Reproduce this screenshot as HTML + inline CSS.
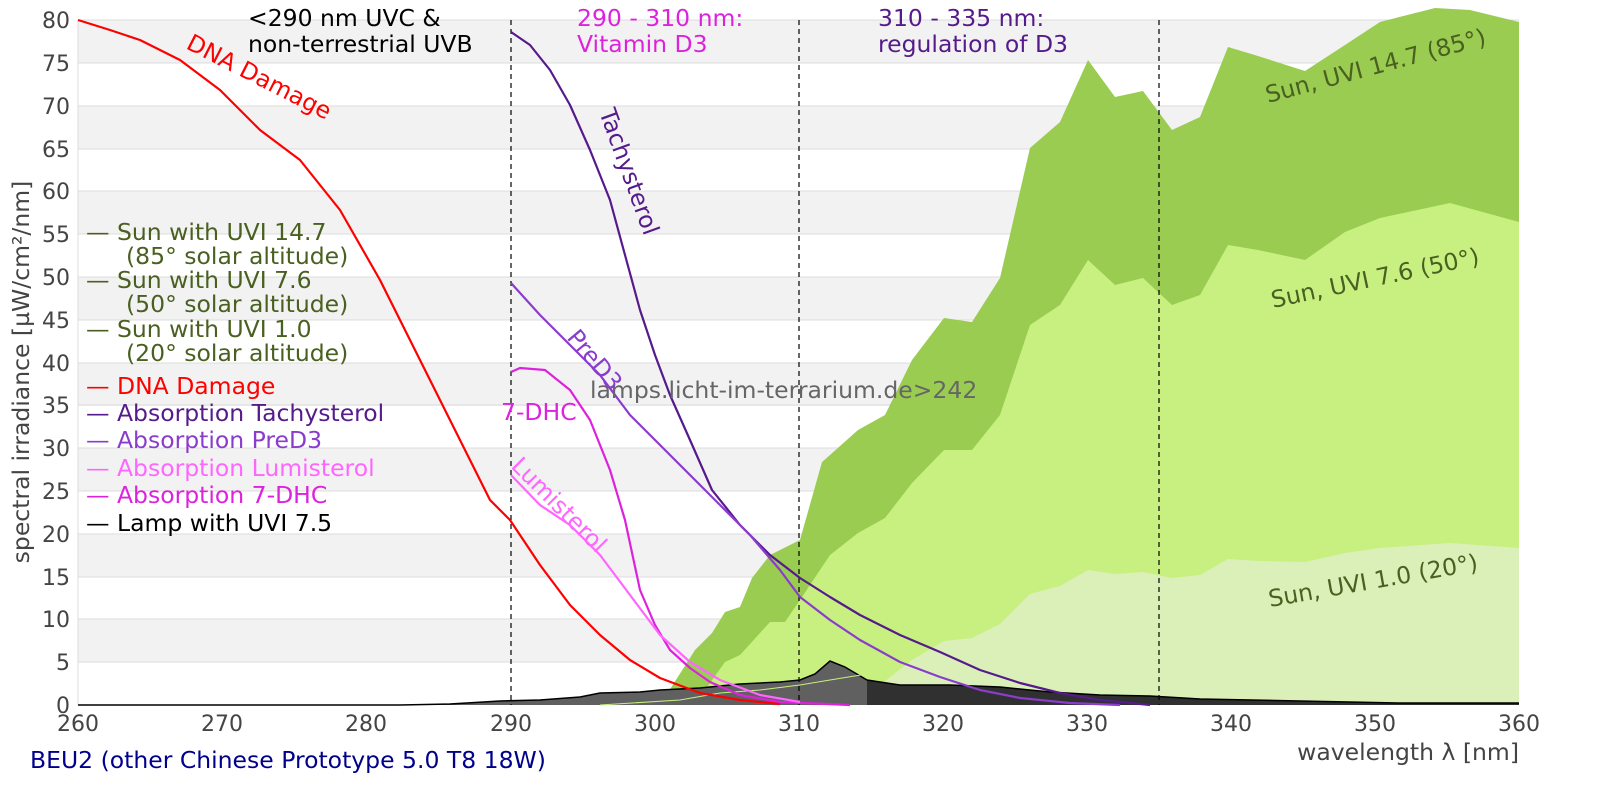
<!DOCTYPE html>
<html><head><meta charset="utf-8"><style>
html,body{margin:0;padding:0;background:#fff}
svg{display:block;font-family:"DejaVu Sans","Liberation Sans",sans-serif}
</style></head><body>
<svg width="1600" height="800" viewBox="0 0 1600 800" xmlns="http://www.w3.org/2000/svg">
<rect width="1600" height="800" fill="#fff"/>
<g fill="#f2f2f2">
<rect x="78" y="20" width="1441" height="43"/>
<rect x="78" y="106" width="1441" height="43"/>
<rect x="78" y="191" width="1441" height="43"/>
<rect x="78" y="277" width="1441" height="43"/>
<rect x="78" y="363" width="1441" height="43"/>
<rect x="78" y="448" width="1441" height="43"/>
<rect x="78" y="534" width="1441" height="43"/>
<rect x="78" y="619" width="1441" height="43"/>
</g>
<g stroke="#dcdcdc" stroke-width="1">
<line x1="78" x2="1519" y1="20" y2="20"/><line x1="78" x2="1519" y1="63" y2="63"/><line x1="78" x2="1519" y1="106" y2="106"/><line x1="78" x2="1519" y1="149" y2="149"/><line x1="78" x2="1519" y1="191" y2="191"/><line x1="78" x2="1519" y1="234" y2="234"/><line x1="78" x2="1519" y1="277" y2="277"/><line x1="78" x2="1519" y1="320" y2="320"/><line x1="78" x2="1519" y1="363" y2="363"/><line x1="78" x2="1519" y1="405" y2="405"/><line x1="78" x2="1519" y1="448" y2="448"/><line x1="78" x2="1519" y1="491" y2="491"/><line x1="78" x2="1519" y1="534" y2="534"/><line x1="78" x2="1519" y1="577" y2="577"/><line x1="78" x2="1519" y1="619" y2="619"/><line x1="78" x2="1519" y1="662" y2="662"/>
<line x1="78" x2="78" y1="20" y2="705"/>
</g>
<polygon fill="#99cc50" points="660,705 695,650 712,633 725,612 740,607 752,578 770,555 800,540 822,462 830,455 858,430 885,415 912,360 944,318 972,322 1000,278 1030,148 1060,122 1088,60 1115,97 1143,91 1172,130 1200,117 1228,47 1258,56 1305,71 1345,45 1380,22 1435,8 1470,10 1519,22 1519,705"/>
<polygon fill="#c8f080" points="680,705 705,690 725,662 740,655 770,622 785,622 800,600 830,555 858,533 885,518 912,483 944,450 972,450 1000,415 1030,325 1060,305 1088,260 1115,285 1143,278 1172,305 1200,295 1228,245 1258,250 1305,260 1345,232 1380,218 1450,203 1519,222 1519,705"/>
<polygon fill="#daf0b8" points="850,705 880,685 912,660 944,641 972,638 1000,624 1030,594 1060,586 1088,570 1115,574 1143,572 1172,578 1200,575 1228,559 1258,561 1305,562 1345,553 1380,548 1450,543 1519,548 1519,705"/>
<clipPath id="l"><rect x="0" y="0" width="867" height="800"/></clipPath>
<clipPath id="r"><rect x="867" y="0" width="800" height="800"/></clipPath>
<polygon clip-path="url(#l)" fill="#606060" points="78,705 400,705 450,704 500,701 540,700 580,697 600,693 640,692 660,690 700,688 740,684 780,682 800,680 815,674 830,661 845,667 867,680 900,685 950,685 1000,687 1050,692 1100,695 1150,696 1200,699 1300,701 1400,703 1519,703 1519,705"/>
<polygon clip-path="url(#r)" fill="#303030" points="78,705 400,705 450,704 500,701 540,700 580,697 600,693 640,692 660,690 700,688 740,684 780,682 800,680 815,674 830,661 845,667 867,680 900,685 950,685 1000,687 1050,692 1100,695 1150,696 1200,699 1300,701 1400,703 1519,703 1519,705"/>
<polyline fill="none" stroke="#000" stroke-width="1.5" points="78,705 400,705 450,704 500,701 540,700 580,697 600,693 640,692 660,690 700,688 740,684 780,682 800,680 815,674 830,661 845,667 867,680 900,685 950,685 1000,687 1050,692 1100,695 1150,696 1200,699 1300,701 1400,703 1519,703"/>
<polyline fill="none" stroke="#c8f080" stroke-width="1" points="600,705 680,700 720,693 760,690 800,685 830,680 867,674"/>
<g stroke="#000" stroke-width="1.2" stroke-dasharray="5,4">
<line x1="511" x2="511" y1="20" y2="705"/><line x1="799" x2="799" y1="20" y2="705"/><line x1="1159" x2="1159" y1="20" y2="705"/>
</g>
<g fill="none" stroke-width="2.2" stroke-linejoin="round">
<polyline stroke="#ff0000" points="78,20 110,30 140,40 180,60 220,90 260,130 300,160 340,210 380,280 420,360 460,440 490,500 510,520 540,565 570,605 600,635 630,660 660,678 700,693 740,700 780,704"/>
<polyline stroke="#551a8b" points="511,32 530,45 550,70 570,105 590,150 610,200 625,255 640,310 655,355 670,395 690,440 712,490 740,525 770,555 800,578 830,597 860,615 900,635 940,652 980,670 1020,683 1060,693 1100,700 1150,705"/>
<polyline stroke="#8a3ccc" points="511,283 540,315 570,345 600,375 630,415 660,445 690,475 720,505 750,535 780,570 800,597 830,620 860,640 900,662 940,677 980,690 1020,698 1070,703 1120,705"/>
<polyline stroke="#dd22dd" points="511,372 520,368 545,370 570,390 590,420 610,470 625,520 640,590 655,625 670,650 690,668 710,682 740,695 780,702 850,705"/>
<polyline stroke="#ff66ff" points="511,475 540,505 570,525 600,555 630,595 660,635 690,662 720,680 760,695 800,702"/>
</g>
<g fill="#444" font-size="22" text-anchor="end">
<text x="70" y="28">80</text><text x="70" y="71">75</text><text x="70" y="114">70</text><text x="70" y="157">65</text><text x="70" y="199">60</text><text x="70" y="242">55</text><text x="70" y="285">50</text><text x="70" y="328">45</text><text x="70" y="371">40</text><text x="70" y="413">35</text><text x="70" y="456">30</text><text x="70" y="499">25</text><text x="70" y="542">20</text><text x="70" y="585">15</text><text x="70" y="627">10</text><text x="70" y="670">5</text><text x="70" y="713">0</text>
</g>
<g fill="#444" font-size="22" text-anchor="middle">
<text x="78" y="731">260</text><text x="222" y="731">270</text><text x="366" y="731">280</text><text x="511" y="731">290</text><text x="655" y="731">300</text><text x="799" y="731">310</text><text x="943" y="731">320</text><text x="1087" y="731">330</text><text x="1231" y="731">340</text><text x="1375" y="731">350</text><text x="1519" y="731">360</text>
</g>
<text x="1519" y="760" text-anchor="end" fill="#444" font-size="23.5">wavelength λ [nm]</text>
<text transform="translate(29,372) rotate(-90)" text-anchor="middle" fill="#444" font-size="23.5">spectral irradiance [µW/cm²/nm]</text>
<text x="30" y="768" fill="#00008b" font-size="23.5">BEU2 (other Chinese Prototype 5.0 T8 18W)</text>
<g font-size="23.5">
<text x="248" y="26" fill="#000">&lt;290 nm UVC &amp;</text><text x="248" y="52" fill="#000">non-terrestrial UVB</text>
<text x="577" y="26" fill="#dd22dd">290 - 310 nm:</text><text x="577" y="52" fill="#dd22dd">Vitamin D3</text>
<text x="878" y="26" fill="#551a8b">310 - 335 nm:</text><text x="878" y="52" fill="#551a8b">regulation of D3</text>
</g>
<g font-size="23.5">
<text x="86" y="240" fill="#4a6020">— Sun with UVI 14.7</text><text x="126" y="264" fill="#4a6020">(85° solar altitude)</text>
<text x="86" y="288" fill="#4a6020">— Sun with UVI 7.6</text><text x="126" y="312" fill="#4a6020">(50° solar altitude)</text>
<text x="86" y="337" fill="#4a6020">— Sun with UVI 1.0</text><text x="126" y="361" fill="#4a6020">(20° solar altitude)</text>
<text x="86" y="394" fill="#ff0000">— DNA Damage</text>
<text x="86" y="421" fill="#551a8b">— Absorption Tachysterol</text>
<text x="86" y="448" fill="#8a3ccc">— Absorption PreD3</text>
<text x="86" y="476" fill="#ff66ff">— Absorption Lumisterol</text>
<text x="86" y="503" fill="#dd22dd">— Absorption 7-DHC</text>
<text x="86" y="531" fill="#000">— Lamp with UVI 7.5</text>
</g>
<text x="590" y="398" fill="#666" font-size="23.5">lamps.licht-im-terrarium.de&gt;242</text>
<g font-size="23.5">
<text transform="translate(185,48) rotate(27)" fill="#ff0000">DNA Damage</text>
<text transform="translate(599,112) rotate(70)" fill="#551a8b">Tachysterol</text>
<text transform="translate(566,338) rotate(50)" fill="#8a3ccc">PreD3</text>
<text x="501" y="420" fill="#dd22dd">7-DHC</text>
<text transform="translate(510,467) rotate(45)" fill="#ff66ff">Lumisterol</text>
<text transform="translate(1268,103) rotate(-15)" fill="#4a6020">Sun, UVI 14.7 (85°)</text>
<text transform="translate(1273,308) rotate(-12)" fill="#4a6020">Sun, UVI 7.6 (50°)</text>
<text transform="translate(1270,607) rotate(-10)" fill="#4a6020">Sun, UVI 1.0 (20°)</text>
</g>
</svg>
</body></html>
